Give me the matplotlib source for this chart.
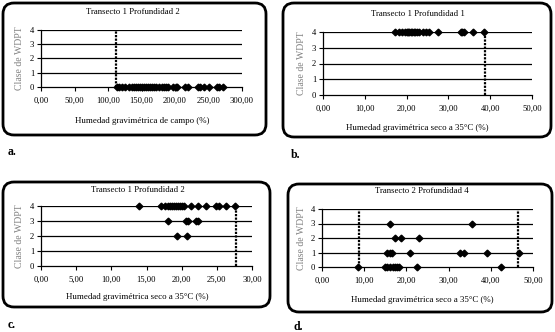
import matplotlib
matplotlib.use("Agg")
import matplotlib.pyplot as plt
from matplotlib.patches import FancyBboxPatch
from matplotlib.ticker import FuncFormatter, MultipleLocator

W, H = 555, 332

# panel a: Transecto 1 Profundidad 2, humedad de campo
a_x = [114, 117, 121, 126, 131, 136, 139, 142, 145, 148, 151, 154, 157, 160,
       163, 166, 169, 172, 176, 180, 183, 186, 190, 197, 201, 203, 215, 220,
       234, 238, 243, 250, 262, 266, 272]
a_y = [0] * len(a_x)
a_lim = [112]

# panel b: Transecto 1 Profundidad 1, seco a 35C
b_x = [17.2, 18.3, 19.0, 19.5, 20.0, 20.3, 20.6, 21.0, 21.3, 21.7, 22.0, 22.5,
       23.0, 24.0, 24.6, 25.4, 27.6, 32.9, 33.3, 33.7, 36.0, 38.5]
b_y = [4] * len(b_x)
b_lim = [38.8]

# panel c: Transecto 1 Profundidad 2, seco a 35C
c_x4 = [13.9, 17.0, 17.6, 18.0, 18.3, 18.6, 18.9, 19.2, 19.5, 19.8, 20.1, 20.4,
        21.3, 22.3, 23.5, 24.9, 25.3, 26.3, 27.6]
c_x3 = [18.0, 20.6, 20.9, 22.0, 22.3]
c_x2 = [19.3, 20.7]
c_x = c_x4 + c_x3 + c_x2
c_y = [4] * len(c_x4) + [3] * len(c_x3) + [2] * len(c_x2)
c_lim = [27.7]

# panel d: Transecto 2 Profundidad 4, seco a 35C
d_x3 = [16.0, 35.5]
d_x2 = [17.3, 18.7, 23.0]
d_x1 = [15.5, 16.1, 16.7, 20.9, 32.8, 33.7, 39.0, 46.6]
d_x0 = [8.6, 15.0, 15.5, 16.2, 16.8, 17.3, 17.8, 18.3, 22.4, 42.5]
d_x = d_x3 + d_x2 + d_x1 + d_x0
d_y = [3] * len(d_x3) + [2] * len(d_x2) + [1] * len(d_x1) + [0] * len(d_x0)
d_lim = [8.7, 46.4]

titulos = ["Transecto 1 Profundidad 2", "Transecto 1 Profundidad 1",
           "Transecto 1 Profundidad 2", "Transecto 2 Profundidad 4"]
xlabels = ["Humedad gravimétrica de campo (%)",
           "Humedad gravimétrica seco a 35°C (%)",
           "Humedad gravimétrica seco a 35°C (%)",
           "Humedad gravimétrica seco a 35°C (%)"]
letras = ["a.", "b.", "c.", "d."]

serif = "Liberation Serif"
plt.rcParams['font.family'] = serif

fig = plt.figure(figsize=(W / 100, H / 100), dpi=100)
fig.patch.set_facecolor("white")

# background axes in pixel units for boxes and texts
bg = fig.add_axes([0, 0, 1, 1], zorder=0)
bg.set_xlim(0, W)
bg.set_ylim(H, 0)
bg.axis("off")

# layout: box, axes (left, right, y4, y0), title, xlabel, ylabel x, letter
paneles = [
    dict(box=(3, 3, 266, 135), ax=(41, 242, 30, 87), xmax=300, step=50,
         ty=12, tx=133, lx=142, ly=121, yl=19, let=(8, 152),
         x=a_x, y=a_y, lim=a_lim),
    dict(box=(283, 3, 551, 137), ax=(323, 532, 32, 95), xmax=50, step=10,
         ty=14, tx=418, lx=417, ly=128, yl=302, let=(291, 155),
         x=b_x, y=b_y, lim=b_lim),
    dict(box=(3, 182, 270, 307), ax=(41, 252, 206, 266), xmax=30, step=5,
         ty=190, tx=138, lx=137, ly=297, yl=19, let=(8, 325),
         x=c_x, y=c_y, lim=c_lim),
    dict(box=(288, 184, 552, 312), ax=(322, 533, 209, 267), xmax=50, step=10,
         ty=191, tx=422, lx=422, ly=300, yl=302, let=(294, 327),
         x=d_x, y=d_y, lim=d_lim),
]

fmt = FuncFormatter(lambda v, p: f"{v:.2f}".replace(".", ","))

for i, p in enumerate(paneles):
    x0, y0, x1, y1 = p["box"]
    bg.add_patch(FancyBboxPatch((x0, y0), x1 - x0, y1 - y0,
                                boxstyle="round,pad=0,rounding_size=11",
                                fc="white", ec="black", lw=2.0))
    bg.text(p["tx"], p["ty"], titulos[i], ha="center", va="center", fontsize=6.3)
    bg.text(p["lx"], p["ly"], xlabels[i], ha="center", va="center", fontsize=6.4)
    bg.text(p["let"][0], p["let"][1], letras[i], ha="left", va="center",
            fontsize=8.5, fontweight="bold")

    l, r, t, b = p["ax"]
    ax = fig.add_axes([l / W, 1 - b / H, (r - l) / W, (b - t) / H], zorder=2)
    ax.patch.set_alpha(0)
    ax.set_xlim(0, p["xmax"])
    ax.set_ylim(0, 4)
    ax.xaxis.set_major_locator(MultipleLocator(p["step"]))
    ax.yaxis.set_major_locator(MultipleLocator(1))
    ax.xaxis.set_major_formatter(fmt)
    for s in ["top", "right"]:
        ax.spines[s].set_visible(False)
    for s in ["left", "bottom"]:
        ax.spines[s].set_linewidth(0.9)
    ax.tick_params(axis="both", direction="out", length=3, width=0.8,
                   labelsize=6.2, pad=2)
    ax.tick_params(axis="x", pad=4)
    for yv in range(1, 5):
        ax.axhline(yv, color="black", lw=0.9, zorder=1)
    for xv in p["lim"]:
        ax.plot([xv, xv], [0, 4], color="black", lw=1.6, ls=(0, (1, 0.6)),
                zorder=2, clip_on=False)
    ax.plot(p["x"], p["y"], ls="none", marker="D", ms=3.4, color="black",
            zorder=3, clip_on=False)
    bg.text(p["yl"], (t + b) / 2, "Clase de WDPT", rotation=90, ha="center",
            va="center", fontsize=7, color="#808080")

fig.savefig("out.png", dpi=100)
